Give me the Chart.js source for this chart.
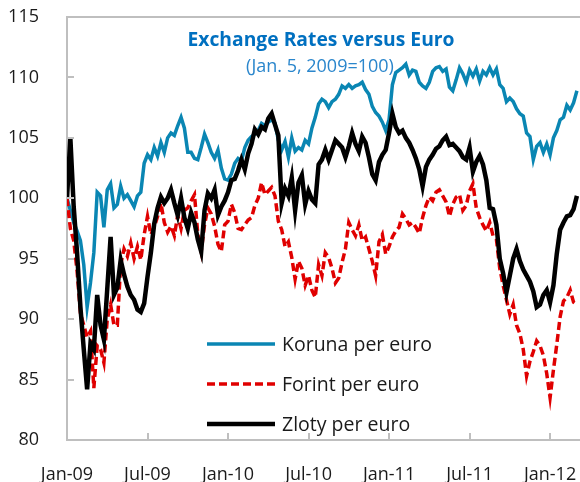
<!DOCTYPE html>
<html>
<head>
<meta charset="utf-8">
<script src="https://cdn.jsdelivr.net/npm/chart.js@4.4.0/dist/chart.umd.min.js"></script>
<style>
  html, body { margin: 0; padding: 0; background: #fff; }
</style>
</head>
<body>
<canvas id="myChart" width="580" height="482"></canvas>
<script>
// series names + axis labels
const seriesNames = ['Koruna per euro', 'Forint per euro', 'Zloty per euro'];
const tickLabels = ['Jan-09', 'Jul-09', 'Jan-10', 'Jul-10', 'Jan-11', 'Jul-11', 'Jan-12'];
const titleText = 'Exchange Rates versus Euro';
const subtitleText = '(Jan. 5, 2009=100)';

// one value per quarter month, starting Jan. 5, 2009 (=100)
const koruna = [100, 99, 98, 97.3, 96.5, 94.5, 91, 93, 95.5, 100.5, 100.2, 97.6, 100.7, 101.2, 99.2, 99.5,
  101, 100, 100.3, 99.8, 99.3, 100.2, 100.5, 102.9, 103.6, 103.2, 104.2, 103.5, 104.6, 103.8, 105, 105.4,
  105.2, 106, 106.7, 105.8, 103.8, 103.8, 103.3, 103.2, 104.2, 105.3, 104.6, 103.8, 103.3, 104, 102.5, 101.6,
  101.5, 102, 102.9, 103.3, 103.1, 104.2, 104.8, 105.1, 105.3, 105.6, 106.2, 106, 106.3, 106.5, 106.2, 104.8,
  104, 104.7, 103.4, 105, 103.9, 104.2, 104, 104.8, 104.5, 105.8, 106.7, 107.8, 108.2, 108, 107.5, 108,
  108.2, 108.6, 109.3, 109.1, 109.4, 109.1, 109.3, 109.4, 109.6, 109, 108.6, 107.6, 107.1, 106.8, 106.3, 105.6,
  106.5, 109.4, 110.4, 110.6, 110.8, 111.1, 110.2, 110.6, 110.5, 109.6, 109.3, 109.1, 109.6, 110.5, 110.8, 110.9,
  110.5, 110.7, 109.2, 108.9, 109.8, 110.8, 110.3, 109.6, 110.6, 110.1, 110.7, 109.7, 110.5, 110.2, 110.8, 110.2,
  110.7, 109.4, 109.1, 108, 108.3, 108, 107.4, 107, 106.8, 105.4, 105.1, 103.2, 104.3, 104.6, 103.8, 104.5,
  103.6, 105, 105.6, 106.5, 106.7, 107.7, 107.3, 107.9, 108.9];

const forint = [100, 97.5, 96.5, 94, 90.5, 89.5, 88.5, 89, 84.3, 87.8, 87.5, 86.4, 90, 91.2, 89.5, 89.5,
  94.5, 95.8, 95.2, 96.3, 95, 96, 94.9, 97, 98.5, 97, 97.6, 98.5, 99.6, 98, 97.2, 97.7,
  96.9, 98.6, 97.5, 99, 99.2, 99.8, 100.3, 97, 95.6, 97.8, 99.2, 98.7, 97.7, 96.2, 95.6, 97.8,
  98.1, 99.5, 98.8, 97.5, 97.4, 97.8, 98.2, 98.4, 99.4, 100, 101.3, 100.3, 100.6, 100.9, 100.2, 98.1,
  97.4, 96, 96.4, 95.1, 93.3, 94.8, 94.2, 92.8, 93.6, 92.4, 91.8, 94.5, 93.6, 95.5, 95.1, 94.2,
  93, 93.4, 94.7, 95.8, 98, 97.4, 96.9, 97.8, 96.5, 96.8, 95.8, 94.8, 93.6, 96.4, 97, 95.4,
  96, 96.8, 97.3, 97.6, 98.7, 98.3, 97.8, 98, 97.6, 97.1, 98.4, 99.4, 100.1, 99.8, 100.5, 100.7,
  100.2, 99.7, 98.5, 99.5, 100.1, 100.3, 99, 99.4, 100.6, 101.2, 99.2, 98.4, 97.8, 97.3, 98, 96.9,
  96.6, 94.2, 92.8, 91.6, 90.4, 91.2, 89.5, 88.8, 87.5, 85.3, 86.5, 87.3, 88.2, 87.8, 87, 85.5,
  83.5, 85.8, 87.9, 90.2, 91.5, 91.8, 92.4, 91.4, 91.2];

const zloty = [100, 105, 99.3, 95.5, 91, 87.5, 84.2, 88, 87.5, 92, 89.5, 88.3, 92.5, 96.8, 92, 92.6,
  94.9, 93.7, 92.7, 92, 91.6, 90.8, 90.6, 91.3, 93.5, 95.5, 97.9, 99.2, 100.1, 99.6, 100, 100.7,
  99.6, 98.6, 100, 98.4, 97.5, 98.8, 98, 96.6, 95.6, 99, 100.4, 100, 100.7, 98.6, 99.3, 99.8,
  100.5, 101.5, 101.6, 102.3, 103.2, 102.4, 103.7, 104.5, 105.7, 105.3, 105.9, 105.7, 106.6, 107, 106.1, 105.2,
  99.6, 100.8, 100.2, 101.7, 99, 101.3, 101.9, 99.5, 100.6, 99.9, 99.6, 102.8, 103.2, 104, 103.2, 104,
  104.8, 104.5, 104.2, 103.4, 104.3, 105.4, 104.5, 103.9, 105.1, 104.6, 103.4, 102, 101.5, 103, 103.6, 104,
  105.4, 107, 105.9, 105.4, 105.6, 105, 104.6, 104, 103.3, 102.4, 101, 102.6, 103.2, 103.6, 104.1, 104.3,
  104.8, 105.1, 104.4, 104.5, 104.2, 103.9, 103.4, 103.2, 104.2, 102.2, 103, 103.5, 102.8, 101.5, 99.2, 99.1,
  97.8, 95, 93.8, 92.2, 93.6, 95, 95.8, 94.8, 94.1, 93.6, 93.1, 92.3, 91, 91.2, 92, 92.4,
  91.4, 92.8, 95.4, 97.4, 98, 98.5, 98.6, 99.1, 100.2];

//points on a month axis
function toPoints(values) {
    return values.map((v, i) => ({ x: i * 0.25, y: v }));
}

Chart.defaults.font.family = "'Open Sans'";
Chart.defaults.color = '#1a1a1a';

const axisGray = '#bfbfbf';

// frame top line, inward tick marks, title and legend
const decorations = {
    id: 'decorations',
    afterDraw(chart) {
        const ctx = chart.ctx;
        const area = chart.chartArea;
        const xs = chart.scales.x;
        const ys = chart.scales.y;
        ctx.save();
        ctx.strokeStyle = axisGray;
        ctx.lineWidth = 2;
        ctx.beginPath();
        ctx.moveTo(area.left, area.top);
        ctx.lineTo(area.right, area.top);
        ys.ticks.forEach(t => {
            const y = Math.round(ys.getPixelForValue(t.value));
            ctx.moveTo(area.left, y);
            ctx.lineTo(area.left + 7, y);
        });
        xs.ticks.forEach(t => {
            const x = Math.round(xs.getPixelForValue(t.value));
            ctx.moveTo(x, area.bottom);
            ctx.lineTo(x, area.bottom - 7);
        });
        ctx.stroke();

        // title
        ctx.textAlign = 'center';
        ctx.textBaseline = 'alphabetic';
        ctx.fillStyle = '#0070c0';
        ctx.font = "bold 19.3px 'Open Sans'";
        ctx.fillText(titleText, 321, 46);
        ctx.fillStyle = '#2a86cc';
        ctx.font = "18px 'Open Sans'";
        ctx.fillText(subtitleText, 320, 72);

        // legend
        ctx.textAlign = 'left';
        ctx.textBaseline = 'middle';
        ctx.font = "19.5px 'Open Sans'";
        chart.data.datasets.forEach((ds, i) => {
            const y = 344 + i * 40;
            ctx.strokeStyle = ds.borderColor;
            ctx.lineWidth = ds.borderWidth;
            ctx.setLineDash(ds.borderDash || []);
            ctx.beginPath();
            ctx.moveTo(207, y);
            ctx.lineTo(275, y);
            ctx.stroke();
            ctx.fillStyle = '#1a1a1a';
            ctx.fillText(ds.label, 282, y + 1);
        });
        ctx.restore();
    }
};

const ctx = document.getElementById('myChart').getContext('2d');
const myChart = new Chart(ctx, {
    type: 'line',
    data: {
        datasets: [{
            label: seriesNames[0],
            data: toPoints(koruna),
            borderColor: '#0a86b3',
            borderWidth: 3.5,
            order: 3
        }, {
            label: seriesNames[1],
            data: toPoints(forint),
            borderColor: '#e00000',
            borderWidth: 3.5,
            borderDash: [8, 4],
            order: 2
        }, {
            label: seriesNames[2],
            data: toPoints(zloty),
            borderColor: '#000000',
            borderWidth: 4.5,
            order: 1
        }]
    },
    options: {
        responsive: false,
        animation: false,
        devicePixelRatio: 1,
        layout: { padding: { top: 17, right: 0, left: 0, bottom: 0 } },
        elements: { point: { radius: 0 }, line: { tension: 0 } },
        plugins: { legend: { display: false }, tooltip: { enabled: false } },
        scales: {
            x: {
                type: 'linear',
                min: 0,
                max: 38.23,
                afterFit: s => { s.height = 42; s.paddingLeft = 0; s.paddingRight = 0; },
                border: { display: true, color: axisGray, width: 2 },
                grid: { display: false },
                ticks: {
                    stepSize: 6,
                    includeBounds: false,
                    autoSkip: false,
                    maxRotation: 0,
                    padding: 16,
                    font: { size: 18 },
                    callback: v => tickLabels[Math.round(v / 6)]
                }
            },
            y: {
                min: 80,
                max: 115,
                afterFit: s => { s.width = 67; s.paddingTop = 0; s.paddingBottom = 0; },
                border: { display: true, color: axisGray, width: 2 },
                grid: { display: false },
                ticks: { stepSize: 5, padding: 20, font: { size: 18 } }
            }
        }
    },
    plugins: [decorations]
});
</script>
</body>
</html>
